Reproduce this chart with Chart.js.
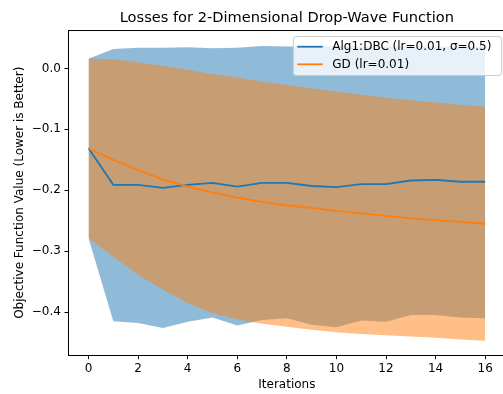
<!DOCTYPE html>
<html>
<head>
<meta charset="utf-8">
<script src="https://cdn.jsdelivr.net/npm/chart.js@4.4.1/dist/chart.umd.min.js"></script>
<style>
  html, body { margin: 0; padding: 0; overflow: hidden; background: #fff; }
  #wrap { width: 503px; height: 394px; overflow: hidden; }
</style>
</head>
<body>
<div id="wrap"><canvas id="myChart" width="505" height="394"></canvas></div>
<script>
// values
var iterations = [0, 1, 2, 3, 4, 5, 6, 7, 8, 9, 10, 11, 12, 13, 14, 15, 16];
var algMean  = [-0.131, -0.191, -0.191, -0.196, -0.191, -0.188, -0.194, -0.188, -0.188, -0.193, -0.195, -0.190, -0.190, -0.184, -0.183, -0.186, -0.186];
var algUpper = [0.016, 0.032, 0.034, 0.034, 0.035, 0.033, 0.034, 0.037, 0.036, 0.036, 0.037, 0.036, 0.036, 0.037, 0.036, 0.036, 0.036];
var algLower = [-0.279, -0.415, -0.418, -0.426, -0.416, -0.409, -0.422, -0.413, -0.410, -0.421, -0.425, -0.414, -0.416, -0.405, -0.405, -0.409, -0.410];
var gdMean   = [-0.131, -0.150, -0.167, -0.182, -0.194, -0.204, -0.212, -0.219, -0.225, -0.229, -0.234, -0.238, -0.242, -0.246, -0.249, -0.252, -0.255];
var gdUpper  = [0.016, 0.015, 0.010, 0.004, -0.002, -0.009, -0.015, -0.022, -0.027, -0.033, -0.038, -0.043, -0.048, -0.052, -0.056, -0.060, -0.063];
var gdLower  = [-0.279, -0.309, -0.339, -0.363, -0.385, -0.402, -0.412, -0.419, -0.424, -0.429, -0.433, -0.436, -0.438, -0.440, -0.442, -0.445, -0.447];
var xTicks = [0, 2, 4, 6, 8, 10, 12, 14, 16];
var yTicks = [0, -0.1, -0.2, -0.3, -0.4];
var seriesNames = ["Alg1:DBC (lr=0.01, \u03c3=0.5)", "GD (lr=0.01)"];

var BLUE = "#1f77b4";
var ORANGE = "#ff7f0e";
var FONT = "DejaVu Sans";

function pts(arr) {
    return iterations.map(function (x, i) { return { x: x, y: arr[i] }; });
}

function band(arr, color, fill, order) {
    return {
        data: pts(arr),
        borderWidth: 0,
        pointRadius: 0,
        backgroundColor: color,
        fill: fill,
        order: order
    };
}

// top spine + matplotlib-like legend
var framePlugin = {
    id: "frame",
    afterDatasetsDraw: function (chart) {
        var a = chart.chartArea, ctx = chart.ctx;
        ctx.save();
        ctx.strokeStyle = "#000";
        ctx.lineWidth = 1;
        ctx.beginPath();
        ctx.moveTo(a.left, a.top);
        ctx.lineTo(a.right, a.top);
        ctx.stroke();
        ctx.restore();
    },
    afterDraw: function (chart) {
        var a = chart.chartArea, ctx = chart.ctx;
        var right = a.right - 3.3, left = right - 208.4, top = a.top + 6, h = 39;
        ctx.save();
        ctx.fillStyle = "rgba(255,255,255,0.8)";
        ctx.strokeStyle = "#cccccc";
        ctx.lineWidth = 1;
        ctx.beginPath();
        ctx.roundRect(left, top, right - left, h, 3);
        ctx.fill();
        ctx.stroke();
        var colors = [BLUE, ORANGE];
        ctx.font = "12px '" + FONT + "'";
        ctx.textBaseline = "middle";
        ctx.fillStyle = "#000";
        for (var i = 0; i < seriesNames.length; i++) {
            var y = top + 10.2 + i * 17.6;
            ctx.strokeStyle = colors[i];
            ctx.lineWidth = 1.8;
            ctx.beginPath();
            ctx.moveTo(left + 4, y);
            ctx.lineTo(left + 29.5, y);
            ctx.stroke();
            ctx.fillText(seriesNames[i], left + 39, y + 0.5);
        }
        ctx.restore();
    }
};

var chart = new Chart(document.getElementById("myChart"), {
    type: "line",
    data: {
        datasets: [
            band(algUpper, "rgba(31,119,180,0.5)", "+1", 4),
            band(algLower, "rgba(31,119,180,0.5)", false, 4),
            band(gdUpper, "rgba(255,127,14,0.5)", "+1", 3),
            band(gdLower, "rgba(255,127,14,0.5)", false, 3),
            { label: seriesNames[0], data: pts(algMean), borderColor: BLUE, borderWidth: 1.8, pointRadius: 0, fill: false, order: 2 },
            { label: seriesNames[1], data: pts(gdMean), borderColor: ORANGE, borderWidth: 1.8, pointRadius: 0, fill: false, order: 1 }
        ]
    },
    options: {
        responsive: false,
        animation: false,
        layout: { padding: 0 },
        plugins: {
            legend: { display: false },
            tooltip: { enabled: false },
            title: {
                display: true,
                fullSize: false,
                text: "Losses for 2-Dimensional Drop-Wave Function",
                color: "#000",
                font: { family: FONT, size: 14.6, weight: "normal" },
                padding: { top: 9.3, bottom: 3.7 }
            }
        },
        scales: {
            x: {
                type: "linear",
                min: -0.8,
                max: 16.8,
                afterBuildTicks: function (s) { s.ticks = xTicks.map(function (v) { return { value: v }; }); },
                afterFit: function (s) { s.height = 39; },
                grid: { drawOnChartArea: false, drawTicks: true, tickLength: 4.2, color: "#000", tickWidth: 1 },
                border: { display: true, color: "#000", width: 1 },
                ticks: { color: "#000", font: { family: FONT, size: 12 }, padding: 2.6, maxRotation: 0,
                         callback: function (v) { return String(v); } },
                title: { display: true, text: "Iterations", color: "#000",
                         font: { family: FONT, size: 12 }, padding: { top: 0, bottom: 1.8 } }
            },
            y: {
                min: -0.4705,
                max: 0.0623,
                afterBuildTicks: function (s) { s.ticks = yTicks.map(function (v) { return { value: v }; }); },
                afterFit: function (s) { s.width = 68.7; },
                grid: { drawOnChartArea: false, drawTicks: true, tickLength: 4.2, color: "#000", tickWidth: 1 },
                border: { display: true, color: "#000", width: 1 },
                ticks: { color: "#000", font: { family: FONT, size: 12 }, padding: 3.6,
                         callback: function (v) { return v === 0 ? "0.0" : "\u2212" + Math.abs(v).toFixed(1); } },
                title: { display: true, text: "Objective Function Value (Lower is Better)", color: "#000",
                         font: { family: FONT, size: 12 }, padding: { top: 12.8, bottom: 0 } }
            }
        }
    },
    plugins: [framePlugin]
});
</script>
</body>
</html>
